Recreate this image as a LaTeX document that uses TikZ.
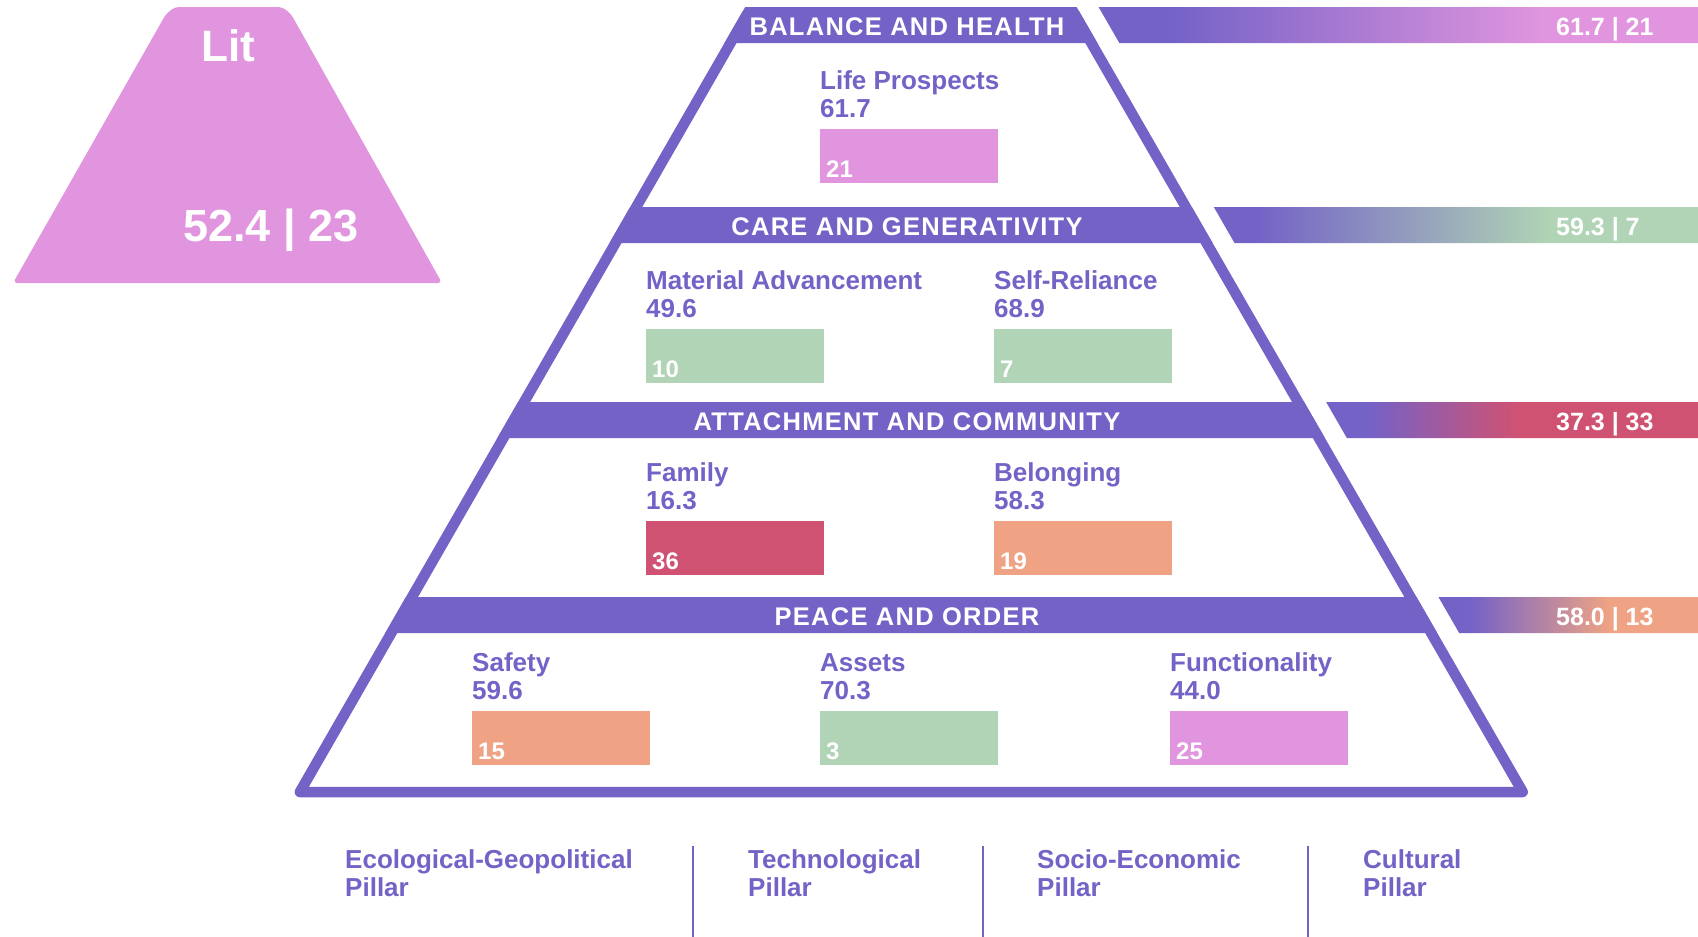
\documentclass[tikz,border=0pt]{standalone}
\usepackage{fontspec}
\setmainfont{Liberation Sans}
\usepackage{tikz}
\usetikzlibrary{positioning,calc}

\definecolor{pyrpurple}{HTML}{7462C7}
\definecolor{pyrpink}{HTML}{E095DE}
\definecolor{pyrgreen}{HTML}{B0D4B5}
\definecolor{pyrred}{HTML}{D05272}
\definecolor{pyrorange}{HTML}{EFA384}

\newcommand\pyrtitlefont{\fontsize{25.5}{28}\selectfont\bfseries\addfontfeature{LetterSpace=5}}
\newcommand\pyrlabelfont{\fontsize{26}{28}\selectfont\bfseries}
\newcommand\pyrrankfont{\fontsize{24}{28}\selectfont\bfseries}
\newcommand\pyrscorefont{\fontsize{25}{28}\selectfont\bfseries}

% purple -> colour fades for the score strips (visible part 25bp..75bp)
\pgfdeclarehorizontalshading{scorepink}{100bp}{color(0bp)=(pyrpurple); color(31bp)=(pyrpurple); color(62bp)=(pyrpink); color(100bp)=(pyrpink)}
\pgfdeclarehorizontalshading{scoregreen}{100bp}{color(0bp)=(pyrpurple); color(29.3bp)=(pyrpurple); color(59.7bp)=(pyrgreen); color(100bp)=(pyrgreen)}
\pgfdeclarehorizontalshading{scorered}{100bp}{color(0bp)=(pyrpurple); color(30.5bp)=(pyrpurple); color(51bp)=(pyrred); color(100bp)=(pyrred)}
\pgfdeclarehorizontalshading{scoreorange}{100bp}{color(0bp)=(pyrpurple); color(31bp)=(pyrpurple); color(58bp)=(pyrorange); color(100bp)=(pyrorange)}

% slanted sides of the pyramid
\pgfmathdeclarefunction{edgeL}{1}{\pgfmathparse{646-0.575*(#1-190)}}
\pgfmathdeclarefunction{edgeR}{1}{\pgfmathparse{1176+0.576*(#1-190)}}

\tikzset{
  pyrframe/.style={draw=pyrpurple, line width=10.5pt, line join=round},
  bandtitle/.style={text=white, font=\pyrtitlefont, anchor=base, inner sep=0pt},
  itemlabel/.style={text=pyrpurple, font=\pyrlabelfont, anchor=base west, inner sep=0pt},
  rankbar/.style={minimum width=178pt, minimum height=54pt, inner sep=0pt, anchor=north west},
  ranknum/.style={text=white, font=\pyrrankfont, anchor=base west, inner sep=0pt},
  scoretext/.style={text=white, font=\pyrscorefont, anchor=base west, inner sep=0pt},
  pillartext/.style={text=pyrpurple, font=\pyrlabelfont, anchor=base west, inner sep=0pt},
  pillarrule/.style={draw=pyrpurple, line width=2pt}
}

\begin{document}
\begin{tikzpicture}[x=1pt, y=-1pt]
  \useasboundingbox (0,0) rectangle (1698,937);
  \fill[white] (0,0) rectangle (1698,937);

  % overall score
  \fill[pyrpink, rounded corners=4pt] (13,283) -- (166,14) -- (175,7) -- (282,7) -- (291,14) -- (442,283) -- cycle;
  \node[text=white, font=\fontsize{44}{48}\selectfont\bfseries, anchor=base, inner sep=0pt] (lit) at (228.5,61) {Lit};
  \node[text=white, font=\fontsize{45}{48}\selectfont\bfseries, anchor=base, inner sep=0pt] (littotal) at (271,241.7) {52.4 | 23};

  % pyramid frame and bands
  \draw[pyrframe] ({edgeL(14)},14) -- ({edgeL(792)},792) -- ({edgeR(792)},792) -- ({edgeR(14)},14);
  \foreach \t in {7,207,402,597}
    \fill[pyrpurple] ({edgeL(\t)-6},\t) -- ({edgeR(\t)+6},\t) -- ({edgeR(\t+36)+6},\t+36) -- ({edgeL(\t+36)-6},\t+36) -- cycle;

  \node[bandtitle] (balance) at (907,35) {BALANCE AND HEALTH};
  \node[bandtitle] (care) at (907,235) {CARE AND GENERATIVITY};
  \node[bandtitle] (attach) at (907,430) {ATTACHMENT AND COMMUNITY};
  \node[bandtitle] (peace) at (907,625) {PEACE AND ORDER};

  % score strips
  \shade[shading=scorepink] ({edgeR(7)+28},7) -- (1698,7) -- (1698,43) -- ({edgeR(43)+28},43) -- cycle;
  \shade[shading=scoregreen] ({edgeR(207)+28},207) -- (1698,207) -- (1698,243) -- ({edgeR(243)+28},243) -- cycle;
  \shade[shading=scorered] ({edgeR(402)+28},402) -- (1698,402) -- (1698,438) -- ({edgeR(438)+28},438) -- cycle;
  \shade[shading=scoreorange] ({edgeR(597)+28},597) -- (1698,597) -- (1698,633) -- ({edgeR(633)+28},633) -- cycle;
  \node[scoretext] (balscore) at (1556,35) {61.7 | 21};
  \node[scoretext] (carescore) at (1556,235) {59.3 | 7};
  \node[scoretext] (attachscore) at (1556,430) {37.3 | 33};
  \node[scoretext] (peacescore) at (1556,625) {58.0 | 13};

  % balance and health
  \node[rankbar, fill=pyrpink] (lifebar) at (820,129) {};
  \node[ranknum] (liferank) at ($(lifebar.south west)+(6,-6)$) {21};
  \node[itemlabel] (lifeval) at ($(lifebar.north west)+(0,-12)$) {61.7};
  \node[itemlabel] (lifename) at ($(lifeval.base west)+(0,-28)$) {Life Prospects};

  % care and generativity
  \node[rankbar, fill=pyrgreen] (matbar) at (646,329) {};
  \node[ranknum] (matrank) at ($(matbar.south west)+(6,-6)$) {10};
  \node[itemlabel] (matval) at ($(matbar.north west)+(0,-12)$) {49.6};
  \node[itemlabel] (matname) at ($(matval.base west)+(0,-28)$) {Material Advancement};

  \node[rankbar, fill=pyrgreen] (selfbar) at (994,329) {};
  \node[ranknum] (selfrank) at ($(selfbar.south west)+(6,-6)$) {7};
  \node[itemlabel] (selfval) at ($(selfbar.north west)+(0,-12)$) {68.9};
  \node[itemlabel] (selfname) at ($(selfval.base west)+(0,-28)$) {Self-Reliance};

  % attachment and community
  \node[rankbar, fill=pyrred] (fambar) at (646,521) {};
  \node[ranknum] (famrank) at ($(fambar.south west)+(6,-6)$) {36};
  \node[itemlabel] (famval) at ($(fambar.north west)+(0,-12)$) {16.3};
  \node[itemlabel] (famname) at ($(famval.base west)+(0,-28)$) {Family};

  \node[rankbar, fill=pyrorange] (belbar) at (994,521) {};
  \node[ranknum] (belrank) at ($(belbar.south west)+(6,-6)$) {19};
  \node[itemlabel] (belval) at ($(belbar.north west)+(0,-12)$) {58.3};
  \node[itemlabel] (belname) at ($(belval.base west)+(0,-28)$) {Belonging};

  % peace and order
  \node[rankbar, fill=pyrorange] (safebar) at (472,711) {};
  \node[ranknum] (saferank) at ($(safebar.south west)+(6,-6)$) {15};
  \node[itemlabel] (safeval) at ($(safebar.north west)+(0,-12)$) {59.6};
  \node[itemlabel] (safename) at ($(safeval.base west)+(0,-28)$) {Safety};

  \node[rankbar, fill=pyrgreen] (assetbar) at (820,711) {};
  \node[ranknum] (assetrank) at ($(assetbar.south west)+(6,-6)$) {3};
  \node[itemlabel] (assetval) at ($(assetbar.north west)+(0,-12)$) {70.3};
  \node[itemlabel] (assetname) at ($(assetval.base west)+(0,-28)$) {Assets};

  \node[rankbar, fill=pyrpink] (funcbar) at (1170,711) {};
  \node[ranknum] (funcrank) at ($(funcbar.south west)+(6,-6)$) {25};
  \node[itemlabel] (funcval) at ($(funcbar.north west)+(0,-12)$) {44.0};
  \node[itemlabel] (funcname) at ($(funcval.base west)+(0,-28)$) {Functionality};

  % pillars
  \node[pillartext] (ecopillar) at (345,868) {Ecological-Geopolitical};
  \node[pillartext] (ecopillar2) at ($(ecopillar.base west)+(0,28)$) {Pillar};
  \node[pillartext] (techpillar) at (748,868) {Technological};
  \node[pillartext] (techpillar2) at ($(techpillar.base west)+(0,28)$) {Pillar};
  \node[pillartext] (sociopillar) at (1037,868) {Socio-Economic};
  \node[pillartext] (sociopillar2) at ($(sociopillar.base west)+(0,28)$) {Pillar};
  \node[pillartext] (cultpillar) at (1363,868) {Cultural};
  \node[pillartext] (cultpillar2) at ($(cultpillar.base west)+(0,28)$) {Pillar};
  \draw[pillarrule] (693,846) -- (693,937);
  \draw[pillarrule] (983,846) -- (983,937);
  \draw[pillarrule] (1308,846) -- (1308,937);
\end{tikzpicture}
\end{document}
